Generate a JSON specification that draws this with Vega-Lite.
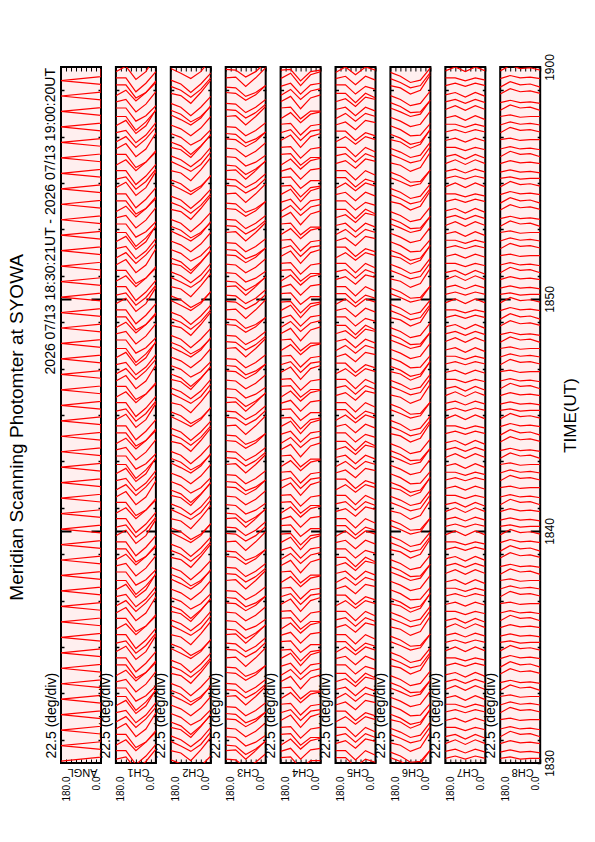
{
  "$schema": "https://vega.github.io/schema/vega-lite/v6.json",
  "padding": {"left": 7, "top": 52, "right": 0, "bottom": 0},
  "title": {"text": "Meridian Scanning Photomter at SYOWA", "orient": "left", "anchor": "middle", "fontSize": 19, "fontWeight": "normal", "font": "Liberation Sans", "color": "#000000", "offset": 16},
  "config": {
    "font": "Liberation Sans",
    "view": {"stroke": "#000000", "strokeWidth": 2, "fill": "#ffefef"},
    "axis": {"domain": false, "grid": false, "tickColor": "#000000", "labelColor": "#000000", "titleColor": "#000000", "titleFontWeight": "normal", "labelFont": "Liberation Sans", "titleFont": "Liberation Sans"},
    "axisTop": {"labels": false, "tickSize": -4, "tickWidth": 1},
    "axisBottom": {"tickSize": -4, "tickWidth": 1, "labelAngle": 270, "labelAlign": "right", "labelFontSize": 10, "labelPadding": 17, "titleFontSize": 11},
    "axisLeft": {"labels": false, "titleAngle": 270, "titleX": -3, "titleY": 691, "titleAlign": "left", "titleBaseline": "bottom", "titleFontSize": 14},
    "axisRight": {"labels": false}
  },
  "datasets": {
    "angl": [{"t":5,"a":180},{"t":15,"a":0},{"t":35,"a":0},{"t":45,"a":180},{"t":55,"a":0},{"t":75,"a":0},{"t":85,"a":180},{"t":95,"a":0},{"t":115,"a":0},{"t":125,"a":180},{"t":135,"a":0},{"t":155,"a":0},{"t":165,"a":180},{"t":175,"a":0},{"t":195,"a":0},{"t":205,"a":180},{"t":215,"a":0},{"t":235,"a":0},{"t":245,"a":180},{"t":255,"a":0},{"t":275,"a":0},{"t":285,"a":180},{"t":295,"a":0},{"t":315,"a":0},{"t":325,"a":180},{"t":335,"a":0},{"t":355,"a":0},{"t":365,"a":180},{"t":375,"a":0},{"t":395,"a":0},{"t":405,"a":180},{"t":415,"a":0},{"t":435,"a":0},{"t":445,"a":180},{"t":455,"a":0},{"t":475,"a":0},{"t":485,"a":180},{"t":495,"a":0},{"t":515,"a":0},{"t":525,"a":180},{"t":535,"a":0},{"t":555,"a":0},{"t":565,"a":180},{"t":575,"a":0},{"t":595,"a":0},{"t":605,"a":180},{"t":615,"a":0},{"t":635,"a":0},{"t":645,"a":180},{"t":655,"a":0},{"t":675,"a":0},{"t":685,"a":180},{"t":695,"a":0},{"t":715,"a":0},{"t":725,"a":180},{"t":735,"a":0},{"t":755,"a":0},{"t":765,"a":180},{"t":775,"a":0},{"t":795,"a":0},{"t":805,"a":180},{"t":815,"a":0},{"t":835,"a":0},{"t":845,"a":180},{"t":855,"a":0},{"t":875,"a":0},{"t":885,"a":180},{"t":895,"a":0},{"t":915,"a":0},{"t":925,"a":180},{"t":935,"a":0},{"t":955,"a":0},{"t":965,"a":180},{"t":975,"a":0},{"t":995,"a":0},{"t":1005,"a":180},{"t":1015,"a":0},{"t":1035,"a":0},{"t":1045,"a":180},{"t":1055,"a":0},{"t":1075,"a":0},{"t":1085,"a":180},{"t":1095,"a":0},{"t":1115,"a":0},{"t":1125,"a":180},{"t":1135,"a":0},{"t":1155,"a":0},{"t":1165,"a":180},{"t":1175,"a":0},{"t":1195,"a":0},{"t":1205,"a":180},{"t":1215,"a":0},{"t":1235,"a":0},{"t":1245,"a":180},{"t":1255,"a":0},{"t":1275,"a":0},{"t":1285,"a":180},{"t":1295,"a":0},{"t":1315,"a":0},{"t":1325,"a":180},{"t":1335,"a":0},{"t":1355,"a":0},{"t":1365,"a":180},{"t":1375,"a":0},{"t":1395,"a":0},{"t":1405,"a":180},{"t":1415,"a":0},{"t":1435,"a":0},{"t":1445,"a":180},{"t":1455,"a":0},{"t":1475,"a":0},{"t":1485,"a":180},{"t":1495,"a":0},{"t":1515,"a":0},{"t":1525,"a":180},{"t":1535,"a":0},{"t":1555,"a":0},{"t":1565,"a":180},{"t":1575,"a":0},{"t":1595,"a":0},{"t":1605,"a":180},{"t":1615,"a":0},{"t":1635,"a":0},{"t":1645,"a":180},{"t":1655,"a":0},{"t":1675,"a":0},{"t":1685,"a":180},{"t":1695,"a":0},{"t":1715,"a":0},{"t":1725,"a":180},{"t":1735,"a":0},{"t":1755,"a":0},{"t":1765,"a":180},{"t":1775,"a":0},{"t":1795,"a":0}],
    "ch1": [
{"y":[10,16,-16,4,36]},{"y":[32,32,-4,18,48]},{"y":[46,60,32,54,84]},{"y":[74,74,40,54,80]},{"y":[88,102,68,88,130]},{"y":[106,120,92,114,144]},{"y":[130,136,104,124,156]},{"y":[148,162,128,148,190]},{"y":[172,172,136,158,188]},{"y":[194,194,160,174,200]},{"y":[210,216,184,204,236]},{"y":[226,240,212,234,264]},{"y":[254,254,220,234,260]},{"y":[272,272,236,258,288]},{"y":[288,302,268,288,330]},
{"y":[310,316,284,304,336]},{"y":[332,332,296,318,348]},{"y":[346,360,332,354,384]},{"y":[374,374,340,354,380]},{"y":[388,402,368,388,430]},{"y":[406,420,392,414,444]},{"y":[430,436,404,424,456]},{"y":[448,462,428,448,490]},{"y":[472,472,436,458,488]},{"y":[494,494,460,474,500]},{"y":[510,516,484,504,536]},{"y":[526,540,512,534,564]},{"y":[554,554,520,534,560]},{"y":[572,572,536,558,588]},{"y":[588,602,568,588,630]},
{"y":[610,616,584,604,636]},{"y":[632,632,596,618,648]},{"y":[646,660,632,654,684]},{"y":[674,674,640,654,680]},{"y":[688,702,668,688,730]},{"y":[706,720,692,714,744]},{"y":[730,736,704,724,756]},{"y":[748,762,728,748,790]},{"y":[772,772,736,758,788]},{"y":[794,794,760,774,800]},{"y":[810,816,784,804,836]},{"y":[826,840,812,834,864]},{"y":[854,854,820,834,860]},{"y":[872,872,836,858,888]},{"y":[888,902,868,888,930]},
{"y":[910,916,884,904,936]},{"y":[932,932,896,918,948]},{"y":[946,960,932,954,984]},{"y":[974,974,940,954,980]},{"y":[988,1002,968,988,1030]},{"y":[1006,1020,992,1014,1044]},{"y":[1030,1036,1004,1024,1056]},{"y":[1048,1062,1028,1048,1090]},{"y":[1072,1072,1036,1058,1088]},{"y":[1094,1094,1060,1074,1100]},{"y":[1110,1116,1084,1104,1136]},{"y":[1126,1140,1112,1134,1164]},{"y":[1154,1154,1120,1134,1160]},{"y":[1172,1172,1136,1158,1188]},{"y":[1188,1202,1168,1188,1230]},
{"y":[1210,1216,1184,1204,1236]},{"y":[1232,1232,1196,1218,1248]},{"y":[1246,1260,1232,1254,1284]},{"y":[1274,1274,1240,1254,1280]},{"y":[1288,1302,1268,1288,1330]},{"y":[1306,1320,1292,1314,1344]},{"y":[1330,1336,1304,1324,1356]},{"y":[1348,1362,1328,1348,1390]},{"y":[1372,1372,1336,1358,1388]},{"y":[1394,1394,1360,1374,1400]},{"y":[1410,1416,1384,1404,1436]},{"y":[1426,1440,1412,1434,1464]},{"y":[1454,1454,1420,1434,1460]},{"y":[1472,1472,1436,1458,1488]},{"y":[1488,1502,1468,1488,1530]},
{"y":[1510,1516,1484,1504,1536]},{"y":[1532,1532,1496,1518,1548]},{"y":[1546,1560,1532,1554,1584]},{"y":[1574,1574,1540,1554,1580]},{"y":[1588,1602,1568,1588,1630]},{"y":[1606,1620,1592,1614,1644]},{"y":[1630,1636,1604,1624,1656]},{"y":[1648,1662,1628,1648,1690]},{"y":[1672,1672,1636,1658,1688]},{"y":[1694,1694,1660,1674,1700]},{"y":[1710,1716,1684,1704,1736]},{"y":[1726,1740,1712,1734,1764]},{"y":[1754,1754,1720,1734,1760]},{"y":[1772,1772,1736,1758,1788]},{"y":[1788,1802,1768,1788,1830]}
    ],
    "ch2": [
{"y":[8,-2,-22,-8,18]},{"y":[32,26,6,34,66]},{"y":[56,44,30,48,80]},{"y":[70,60,42,62,92]},{"y":[92,86,66,94,126]},{"y":[106,96,74,96,124]},{"y":[128,118,98,112,138]},{"y":[150,140,122,142,172]},{"y":[176,164,150,168,200]},{"y":[188,178,158,172,198]},{"y":[206,196,174,196,224]},{"y":[232,226,206,234,266]},{"y":[250,240,222,242,272]},{"y":[266,256,234,256,284]},{"y":[296,284,270,288,320]},
{"y":[308,298,278,292,318]},{"y":[332,326,306,334,366]},{"y":[356,344,330,348,380]},{"y":[370,360,342,362,392]},{"y":[392,386,366,394,426]},{"y":[406,396,374,396,424]},{"y":[428,418,398,412,438]},{"y":[450,440,422,442,472]},{"y":[476,464,450,468,500]},{"y":[488,478,458,472,498]},{"y":[506,496,474,496,524]},{"y":[532,526,506,534,566]},{"y":[550,540,522,542,572]},{"y":[566,556,534,556,584]},{"y":[596,584,570,588,620]},
{"y":[608,598,578,592,618]},{"y":[632,626,606,634,666]},{"y":[656,644,630,648,680]},{"y":[670,660,642,662,692]},{"y":[692,686,666,694,726]},{"y":[706,696,674,696,724]},{"y":[728,718,698,712,738]},{"y":[750,740,722,742,772]},{"y":[776,764,750,768,800]},{"y":[788,778,758,772,798]},{"y":[806,796,774,796,824]},{"y":[832,826,806,834,866]},{"y":[850,840,822,842,872]},{"y":[866,856,834,856,884]},{"y":[896,884,870,888,920]},
{"y":[908,898,878,892,918]},{"y":[932,926,906,934,966]},{"y":[956,944,930,948,980]},{"y":[970,960,942,962,992]},{"y":[992,986,966,994,1026]},{"y":[1006,996,974,996,1024]},{"y":[1028,1018,998,1012,1038]},{"y":[1050,1040,1022,1042,1072]},{"y":[1076,1064,1050,1068,1100]},{"y":[1088,1078,1058,1072,1098]},{"y":[1106,1096,1074,1096,1124]},{"y":[1132,1126,1106,1134,1166]},{"y":[1150,1140,1122,1142,1172]},{"y":[1166,1156,1134,1156,1184]},{"y":[1196,1184,1170,1188,1220]},
{"y":[1208,1198,1178,1192,1218]},{"y":[1232,1226,1206,1234,1266]},{"y":[1256,1244,1230,1248,1280]},{"y":[1270,1260,1242,1262,1292]},{"y":[1292,1286,1266,1294,1326]},{"y":[1306,1296,1274,1296,1324]},{"y":[1328,1318,1298,1312,1338]},{"y":[1350,1340,1322,1342,1372]},{"y":[1376,1364,1350,1368,1400]},{"y":[1388,1378,1358,1372,1398]},{"y":[1406,1396,1374,1396,1424]},{"y":[1432,1426,1406,1434,1466]},{"y":[1450,1440,1422,1442,1472]},{"y":[1466,1456,1434,1456,1484]},{"y":[1496,1484,1470,1488,1520]},
{"y":[1508,1498,1478,1492,1518]},{"y":[1532,1526,1506,1534,1566]},{"y":[1556,1544,1530,1548,1580]},{"y":[1570,1560,1542,1562,1592]},{"y":[1592,1586,1566,1594,1626]},{"y":[1606,1596,1574,1596,1624]},{"y":[1628,1618,1598,1612,1638]},{"y":[1650,1640,1622,1642,1672]},{"y":[1676,1664,1650,1668,1700]},{"y":[1688,1678,1658,1672,1698]},{"y":[1706,1696,1674,1696,1724]},{"y":[1732,1726,1706,1734,1766]},{"y":[1750,1740,1722,1742,1772]},{"y":[1766,1756,1734,1756,1784]},{"y":[1796,1784,1770,1788,1820]}
    ],
    "ch3": [
{"y":[10,8,-12,2,24]},{"y":[32,34,10,32,58]},{"y":[46,44,22,36,56]},{"y":[68,66,44,54,72]},{"y":[90,88,68,82,104]},{"y":[114,112,94,108,132]},{"y":[128,126,104,114,132]},{"y":[146,144,122,136,156]},{"y":[172,174,150,172,198]},{"y":[190,188,168,182,204]},{"y":[206,204,182,196,216]},{"y":[234,232,214,228,252]},{"y":[248,246,224,234,252]},{"y":[272,274,250,272,298]},{"y":[294,292,274,288,312]},
{"y":[310,308,288,302,324]},{"y":[332,334,310,332,358]},{"y":[346,344,322,336,356]},{"y":[368,366,344,354,372]},{"y":[390,388,368,382,404]},{"y":[414,412,394,408,432]},{"y":[428,426,404,414,432]},{"y":[446,444,422,436,456]},{"y":[472,474,450,472,498]},{"y":[490,488,468,482,504]},{"y":[506,504,482,496,516]},{"y":[534,532,514,528,552]},{"y":[548,546,524,534,552]},{"y":[572,574,550,572,598]},{"y":[594,592,574,588,612]},
{"y":[610,608,588,602,624]},{"y":[632,634,610,632,658]},{"y":[646,644,622,636,656]},{"y":[668,666,644,654,672]},{"y":[690,688,668,682,704]},{"y":[714,712,694,708,732]},{"y":[728,726,704,714,732]},{"y":[746,744,722,736,756]},{"y":[772,774,750,772,798]},{"y":[790,788,768,782,804]},{"y":[806,804,782,796,816]},{"y":[834,832,814,828,852]},{"y":[848,846,824,834,852]},{"y":[872,874,850,872,898]},{"y":[894,892,874,888,912]},
{"y":[910,908,888,902,924]},{"y":[932,934,910,932,958]},{"y":[946,944,922,936,956]},{"y":[968,966,944,954,972]},{"y":[990,988,968,982,1004]},{"y":[1014,1012,994,1008,1032]},{"y":[1028,1026,1004,1014,1032]},{"y":[1046,1044,1022,1036,1056]},{"y":[1072,1074,1050,1072,1098]},{"y":[1090,1088,1068,1082,1104]},{"y":[1106,1104,1082,1096,1116]},{"y":[1134,1132,1114,1128,1152]},{"y":[1148,1146,1124,1134,1152]},{"y":[1172,1174,1150,1172,1198]},{"y":[1194,1192,1174,1188,1212]},
{"y":[1210,1208,1188,1202,1224]},{"y":[1232,1234,1210,1232,1258]},{"y":[1246,1244,1222,1236,1256]},{"y":[1268,1266,1244,1254,1272]},{"y":[1290,1288,1268,1282,1304]},{"y":[1314,1312,1294,1308,1332]},{"y":[1328,1326,1304,1314,1332]},{"y":[1346,1344,1322,1336,1356]},{"y":[1372,1374,1350,1372,1398]},{"y":[1390,1388,1368,1382,1404]},{"y":[1406,1404,1382,1396,1416]},{"y":[1434,1432,1414,1428,1452]},{"y":[1448,1446,1424,1434,1452]},{"y":[1472,1474,1450,1472,1498]},{"y":[1494,1492,1474,1488,1512]},
{"y":[1510,1508,1488,1502,1524]},{"y":[1532,1534,1510,1532,1558]},{"y":[1546,1544,1522,1536,1556]},{"y":[1568,1566,1544,1554,1572]},{"y":[1590,1588,1568,1582,1604]},{"y":[1614,1612,1594,1608,1632]},{"y":[1628,1626,1604,1614,1632]},{"y":[1646,1644,1622,1636,1656]},{"y":[1672,1674,1650,1672,1698]},{"y":[1690,1688,1668,1682,1704]},{"y":[1706,1704,1682,1696,1716]},{"y":[1734,1732,1714,1728,1752]},{"y":[1748,1746,1724,1734,1752]},{"y":[1772,1774,1750,1772,1798]},{"y":[1794,1792,1774,1788,1812]}
    ],
    "ch4": [
{"y":[14,16,-14,6,6]},{"y":[30,38,10,34,38]},{"y":[46,62,36,58,64]},{"y":[74,76,46,66,66]},{"y":[92,94,64,88,92]},{"y":[110,124,92,120,128]},{"y":[130,138,110,134,138]},{"y":[152,154,124,148,152]},{"y":[166,182,156,178,184]},{"y":[194,196,166,186,186]},{"y":[210,224,192,220,228]},{"y":[226,242,216,238,244]},{"y":[250,258,230,254,258]},{"y":[270,284,252,280,288]},{"y":[292,294,264,288,292]},
{"y":[314,316,286,306,306]},{"y":[330,338,310,334,338]},{"y":[346,362,336,358,364]},{"y":[374,376,346,366,366]},{"y":[392,394,364,388,392]},{"y":[410,424,392,420,428]},{"y":[430,438,410,434,438]},{"y":[452,454,424,448,452]},{"y":[466,482,456,478,484]},{"y":[494,496,466,486,486]},{"y":[510,524,492,520,528]},{"y":[526,542,516,538,544]},{"y":[550,558,530,554,558]},{"y":[570,584,552,580,588]},{"y":[592,594,564,588,592]},
{"y":[614,616,586,606,606]},{"y":[630,638,610,634,638]},{"y":[646,662,636,658,664]},{"y":[674,676,646,666,666]},{"y":[692,694,664,688,692]},{"y":[710,724,692,720,728]},{"y":[730,738,710,734,738]},{"y":[752,754,724,748,752]},{"y":[766,782,756,778,784]},{"y":[794,796,766,786,786]},{"y":[810,824,792,820,828]},{"y":[826,842,816,838,844]},{"y":[850,858,830,854,858]},{"y":[870,884,852,880,888]},{"y":[892,894,864,888,892]},
{"y":[914,916,886,906,906]},{"y":[930,938,910,934,938]},{"y":[946,962,936,958,964]},{"y":[974,976,946,966,966]},{"y":[992,994,964,988,992]},{"y":[1010,1024,992,1020,1028]},{"y":[1030,1038,1010,1034,1038]},{"y":[1052,1054,1024,1048,1052]},{"y":[1066,1082,1056,1078,1084]},{"y":[1094,1096,1066,1086,1086]},{"y":[1110,1124,1092,1120,1128]},{"y":[1126,1142,1116,1138,1144]},{"y":[1150,1158,1130,1154,1158]},{"y":[1170,1184,1152,1180,1188]},{"y":[1192,1194,1164,1188,1192]},
{"y":[1214,1216,1186,1206,1206]},{"y":[1230,1238,1210,1234,1238]},{"y":[1246,1262,1236,1258,1264]},{"y":[1274,1276,1246,1266,1266]},{"y":[1292,1294,1264,1288,1292]},{"y":[1310,1324,1292,1320,1328]},{"y":[1330,1338,1310,1334,1338]},{"y":[1352,1354,1324,1348,1352]},{"y":[1366,1382,1356,1378,1384]},{"y":[1394,1396,1366,1386,1386]},{"y":[1410,1424,1392,1420,1428]},{"y":[1426,1442,1416,1438,1444]},{"y":[1450,1458,1430,1454,1458]},{"y":[1470,1484,1452,1480,1488]},{"y":[1492,1494,1464,1488,1492]},
{"y":[1514,1516,1486,1506,1506]},{"y":[1530,1538,1510,1534,1538]},{"y":[1546,1562,1536,1558,1564]},{"y":[1574,1576,1546,1566,1566]},{"y":[1592,1594,1564,1588,1592]},{"y":[1610,1624,1592,1620,1628]},{"y":[1630,1638,1610,1634,1638]},{"y":[1652,1654,1624,1648,1652]},{"y":[1666,1682,1656,1678,1684]},{"y":[1694,1696,1666,1686,1686]},{"y":[1710,1724,1692,1720,1728]},{"y":[1726,1742,1716,1738,1744]},{"y":[1750,1758,1730,1754,1758]},{"y":[1770,1784,1752,1780,1788]},{"y":[1792,1794,1764,1788,1792]}
    ],
    "ch5": [
{"y":[14,14,-10,10,2]},{"y":[32,32,8,32,20]},{"y":[50,58,38,62,56]},{"y":[70,76,54,76,66]},{"y":[92,92,68,92,80]},{"y":[106,120,100,120,112]},{"y":[134,134,110,130,122]},{"y":[150,158,138,162,156]},{"y":[166,180,160,180,172]},{"y":[190,196,174,196,186]},{"y":[210,218,198,222,216]},{"y":[232,232,208,232,220]},{"y":[254,254,230,250,242]},{"y":[270,276,254,276,266]},{"y":[286,300,280,300,292]},
{"y":[314,314,290,310,302]},{"y":[332,332,308,332,320]},{"y":[350,358,338,362,356]},{"y":[370,376,354,376,366]},{"y":[392,392,368,392,380]},{"y":[406,420,400,420,412]},{"y":[434,434,410,430,422]},{"y":[450,458,438,462,456]},{"y":[466,480,460,480,472]},{"y":[490,496,474,496,486]},{"y":[510,518,498,522,516]},{"y":[532,532,508,532,520]},{"y":[554,554,530,550,542]},{"y":[570,576,554,576,566]},{"y":[586,600,580,600,592]},
{"y":[614,614,590,610,602]},{"y":[632,632,608,632,620]},{"y":[650,658,638,662,656]},{"y":[670,676,654,676,666]},{"y":[692,692,668,692,680]},{"y":[706,720,700,720,712]},{"y":[734,734,710,730,722]},{"y":[750,758,738,762,756]},{"y":[766,780,760,780,772]},{"y":[790,796,774,796,786]},{"y":[810,818,798,822,816]},{"y":[832,832,808,832,820]},{"y":[854,854,830,850,842]},{"y":[870,876,854,876,866]},{"y":[886,900,880,900,892]},
{"y":[914,914,890,910,902]},{"y":[932,932,908,932,920]},{"y":[950,958,938,962,956]},{"y":[970,976,954,976,966]},{"y":[992,992,968,992,980]},{"y":[1006,1020,1000,1020,1012]},{"y":[1034,1034,1010,1030,1022]},{"y":[1050,1058,1038,1062,1056]},{"y":[1066,1080,1060,1080,1072]},{"y":[1090,1096,1074,1096,1086]},{"y":[1110,1118,1098,1122,1116]},{"y":[1132,1132,1108,1132,1120]},{"y":[1154,1154,1130,1150,1142]},{"y":[1170,1176,1154,1176,1166]},{"y":[1186,1200,1180,1200,1192]},
{"y":[1214,1214,1190,1210,1202]},{"y":[1232,1232,1208,1232,1220]},{"y":[1250,1258,1238,1262,1256]},{"y":[1270,1276,1254,1276,1266]},{"y":[1292,1292,1268,1292,1280]},{"y":[1306,1320,1300,1320,1312]},{"y":[1334,1334,1310,1330,1322]},{"y":[1350,1358,1338,1362,1356]},{"y":[1366,1380,1360,1380,1372]},{"y":[1390,1396,1374,1396,1386]},{"y":[1410,1418,1398,1422,1416]},{"y":[1432,1432,1408,1432,1420]},{"y":[1454,1454,1430,1450,1442]},{"y":[1470,1476,1454,1476,1466]},{"y":[1486,1500,1480,1500,1492]},
{"y":[1514,1514,1490,1510,1502]},{"y":[1532,1532,1508,1532,1520]},{"y":[1550,1558,1538,1562,1556]},{"y":[1570,1576,1554,1576,1566]},{"y":[1592,1592,1568,1592,1580]},{"y":[1606,1620,1600,1620,1612]},{"y":[1634,1634,1610,1630,1622]},{"y":[1650,1658,1638,1662,1656]},{"y":[1666,1680,1660,1680,1672]},{"y":[1690,1696,1674,1696,1686]},{"y":[1710,1718,1698,1722,1716]},{"y":[1732,1732,1708,1732,1720]},{"y":[1754,1754,1730,1750,1742]},{"y":[1770,1776,1754,1776,1766]},{"y":[1786,1800,1780,1800,1792]}
    ],
    "ch6": [
{"y":[14,4,-8,-2,34]},{"y":[28,18,2,4,34]},{"y":[52,46,30,40,80]},{"y":[74,64,52,58,94]},{"y":[90,80,66,72,106]},{"y":[112,106,90,100,140]},{"y":[126,116,100,106,138]},{"y":[148,138,122,124,154]},{"y":[170,160,146,152,186]},{"y":[194,184,172,178,214]},{"y":[208,198,182,184,214]},{"y":[226,216,200,206,238]},{"y":[252,246,230,240,280]},{"y":[270,260,246,252,286]},{"y":[286,276,260,266,298]},
{"y":[314,304,292,298,334]},{"y":[328,318,302,304,334]},{"y":[352,346,330,340,380]},{"y":[374,364,352,358,394]},{"y":[390,380,366,372,406]},{"y":[412,406,390,400,440]},{"y":[426,416,400,406,438]},{"y":[448,438,422,424,454]},{"y":[470,460,446,452,486]},{"y":[494,484,472,478,514]},{"y":[508,498,482,484,514]},{"y":[526,516,500,506,538]},{"y":[552,546,530,540,580]},{"y":[570,560,546,552,586]},{"y":[586,576,560,566,598]},
{"y":[614,604,592,598,634]},{"y":[628,618,602,604,634]},{"y":[652,646,630,640,680]},{"y":[674,664,652,658,694]},{"y":[690,680,666,672,706]},{"y":[712,706,690,700,740]},{"y":[726,716,700,706,738]},{"y":[748,738,722,724,754]},{"y":[770,760,746,752,786]},{"y":[794,784,772,778,814]},{"y":[808,798,782,784,814]},{"y":[826,816,800,806,838]},{"y":[852,846,830,840,880]},{"y":[870,860,846,852,886]},{"y":[886,876,860,866,898]},
{"y":[914,904,892,898,934]},{"y":[928,918,902,904,934]},{"y":[952,946,930,940,980]},{"y":[974,964,952,958,994]},{"y":[990,980,966,972,1006]},{"y":[1012,1006,990,1000,1040]},{"y":[1026,1016,1000,1006,1038]},{"y":[1048,1038,1022,1024,1054]},{"y":[1070,1060,1046,1052,1086]},{"y":[1094,1084,1072,1078,1114]},{"y":[1108,1098,1082,1084,1114]},{"y":[1126,1116,1100,1106,1138]},{"y":[1152,1146,1130,1140,1180]},{"y":[1170,1160,1146,1152,1186]},{"y":[1186,1176,1160,1166,1198]},
{"y":[1214,1204,1192,1198,1234]},{"y":[1228,1218,1202,1204,1234]},{"y":[1252,1246,1230,1240,1280]},{"y":[1274,1264,1252,1258,1294]},{"y":[1290,1280,1266,1272,1306]},{"y":[1312,1306,1290,1300,1340]},{"y":[1326,1316,1300,1306,1338]},{"y":[1348,1338,1322,1324,1354]},{"y":[1370,1360,1346,1352,1386]},{"y":[1394,1384,1372,1378,1414]},{"y":[1408,1398,1382,1384,1414]},{"y":[1426,1416,1400,1406,1438]},{"y":[1452,1446,1430,1440,1480]},{"y":[1470,1460,1446,1452,1486]},{"y":[1486,1476,1460,1466,1498]},
{"y":[1514,1504,1492,1498,1534]},{"y":[1528,1518,1502,1504,1534]},{"y":[1552,1546,1530,1540,1580]},{"y":[1574,1564,1552,1558,1594]},{"y":[1590,1580,1566,1572,1606]},{"y":[1612,1606,1590,1600,1640]},{"y":[1626,1616,1600,1606,1638]},{"y":[1648,1638,1622,1624,1654]},{"y":[1670,1660,1646,1652,1686]},{"y":[1694,1684,1672,1678,1714]},{"y":[1708,1698,1682,1684,1714]},{"y":[1726,1716,1700,1706,1738]},{"y":[1752,1746,1730,1740,1780]},{"y":[1770,1760,1746,1752,1786]},{"y":[1786,1776,1760,1766,1798]}
    ],
    "ch7": [
{"y":[12,18,10,18,12]},{"y":[30,36,26,36,28]},{"y":[50,60,48,60,50]},{"y":[68,74,62,74,64]},{"y":[92,92,84,92,86]},{"y":[110,116,106,116,108]},{"y":[132,138,130,138,132]},{"y":[152,152,144,152,146]},{"y":[168,174,162,174,164]},{"y":[190,200,188,200,190]},{"y":[210,216,206,216,208]},{"y":[228,234,222,234,224]},{"y":[252,258,250,258,252]},{"y":[272,272,264,272,266]},{"y":[290,300,288,300,290]},
{"y":[312,318,310,318,312]},{"y":[330,336,326,336,328]},{"y":[350,360,348,360,350]},{"y":[368,374,362,374,364]},{"y":[392,392,384,392,386]},{"y":[410,416,406,416,408]},{"y":[432,438,430,438,432]},{"y":[452,452,444,452,446]},{"y":[468,474,462,474,464]},{"y":[490,500,488,500,490]},{"y":[510,516,506,516,508]},{"y":[528,534,522,534,524]},{"y":[552,558,550,558,552]},{"y":[572,572,564,572,566]},{"y":[590,600,588,600,590]},
{"y":[612,618,610,618,612]},{"y":[630,636,626,636,628]},{"y":[650,660,648,660,650]},{"y":[668,674,662,674,664]},{"y":[692,692,684,692,686]},{"y":[710,716,706,716,708]},{"y":[732,738,730,738,732]},{"y":[752,752,744,752,746]},{"y":[768,774,762,774,764]},{"y":[790,800,788,800,790]},{"y":[810,816,806,816,808]},{"y":[828,834,822,834,824]},{"y":[852,858,850,858,852]},{"y":[872,872,864,872,866]},{"y":[890,900,888,900,890]},
{"y":[912,918,910,918,912]},{"y":[930,936,926,936,928]},{"y":[950,960,948,960,950]},{"y":[968,974,962,974,964]},{"y":[992,992,984,992,986]},{"y":[1010,1016,1006,1016,1008]},{"y":[1032,1038,1030,1038,1032]},{"y":[1052,1052,1044,1052,1046]},{"y":[1068,1074,1062,1074,1064]},{"y":[1090,1100,1088,1100,1090]},{"y":[1110,1116,1106,1116,1108]},{"y":[1128,1134,1122,1134,1124]},{"y":[1152,1158,1150,1158,1152]},{"y":[1172,1172,1164,1172,1166]},{"y":[1190,1200,1188,1200,1190]},
{"y":[1212,1218,1210,1218,1212]},{"y":[1230,1236,1226,1236,1228]},{"y":[1250,1260,1248,1260,1250]},{"y":[1268,1274,1262,1274,1264]},{"y":[1292,1292,1284,1292,1286]},{"y":[1310,1316,1306,1316,1308]},{"y":[1332,1338,1330,1338,1332]},{"y":[1352,1352,1344,1352,1346]},{"y":[1368,1374,1362,1374,1364]},{"y":[1390,1400,1388,1400,1390]},{"y":[1410,1416,1406,1416,1408]},{"y":[1428,1434,1422,1434,1424]},{"y":[1452,1458,1450,1458,1452]},{"y":[1472,1472,1464,1472,1466]},{"y":[1490,1500,1488,1500,1490]},
{"y":[1512,1518,1510,1518,1512]},{"y":[1530,1536,1526,1536,1528]},{"y":[1550,1560,1548,1560,1550]},{"y":[1568,1574,1562,1574,1564]},{"y":[1592,1592,1584,1592,1586]},{"y":[1610,1616,1606,1616,1608]},{"y":[1632,1638,1630,1638,1632]},{"y":[1652,1652,1644,1652,1646]},{"y":[1668,1674,1662,1674,1664]},{"y":[1690,1700,1688,1700,1690]},{"y":[1710,1716,1706,1716,1708]},{"y":[1728,1734,1722,1734,1724]},{"y":[1752,1758,1750,1758,1752]},{"y":[1772,1772,1764,1772,1766]},{"y":[1790,1800,1788,1800,1790]}
    ],
    "ch8": [
{"y":[12,16,10,12,12]},{"y":[28,34,28,30,26]},{"y":[50,58,52,54,50]},{"y":[68,82,74,76,68]},{"y":[88,94,88,90,86]},{"y":[112,116,110,112,112]},{"y":[130,144,136,138,132]},{"y":[150,158,152,154,150]},{"y":[172,176,170,172,172]},{"y":[188,202,194,196,188]},{"y":[208,214,208,210,206]},{"y":[230,244,236,238,232]},{"y":[248,262,254,256,248]},{"y":[270,278,272,274,270]},{"y":[290,304,296,298,292]},
{"y":[312,316,310,312,312]},{"y":[328,334,328,330,326]},{"y":[350,358,352,354,350]},{"y":[368,382,374,376,368]},{"y":[388,394,388,390,386]},{"y":[412,416,410,412,412]},{"y":[430,444,436,438,432]},{"y":[450,458,452,454,450]},{"y":[472,476,470,472,472]},{"y":[488,502,494,496,488]},{"y":[508,514,508,510,506]},{"y":[530,544,536,538,532]},{"y":[548,562,554,556,548]},{"y":[570,578,572,574,570]},{"y":[590,604,596,598,592]},
{"y":[612,616,610,612,612]},{"y":[628,634,628,630,626]},{"y":[650,658,652,654,650]},{"y":[668,682,674,676,668]},{"y":[688,694,688,690,686]},{"y":[712,716,710,712,712]},{"y":[730,744,736,738,732]},{"y":[750,758,752,754,750]},{"y":[772,776,770,772,772]},{"y":[788,802,794,796,788]},{"y":[808,814,808,810,806]},{"y":[830,844,836,838,832]},{"y":[848,862,854,856,848]},{"y":[870,878,872,874,870]},{"y":[890,904,896,898,892]},
{"y":[912,916,910,912,912]},{"y":[928,934,928,930,926]},{"y":[950,958,952,954,950]},{"y":[968,982,974,976,968]},{"y":[988,994,988,990,986]},{"y":[1012,1016,1010,1012,1012]},{"y":[1030,1044,1036,1038,1032]},{"y":[1050,1058,1052,1054,1050]},{"y":[1072,1076,1070,1072,1072]},{"y":[1088,1102,1094,1096,1088]},{"y":[1108,1114,1108,1110,1106]},{"y":[1130,1144,1136,1138,1132]},{"y":[1148,1162,1154,1156,1148]},{"y":[1170,1178,1172,1174,1170]},{"y":[1190,1204,1196,1198,1192]},
{"y":[1212,1216,1210,1212,1212]},{"y":[1228,1234,1228,1230,1226]},{"y":[1250,1258,1252,1254,1250]},{"y":[1268,1282,1274,1276,1268]},{"y":[1288,1294,1288,1290,1286]},{"y":[1312,1316,1310,1312,1312]},{"y":[1330,1344,1336,1338,1332]},{"y":[1350,1358,1352,1354,1350]},{"y":[1372,1376,1370,1372,1372]},{"y":[1388,1402,1394,1396,1388]},{"y":[1408,1414,1408,1410,1406]},{"y":[1430,1444,1436,1438,1432]},{"y":[1448,1462,1454,1456,1448]},{"y":[1470,1478,1472,1474,1470]},{"y":[1490,1504,1496,1498,1492]},
{"y":[1512,1516,1510,1512,1512]},{"y":[1528,1534,1528,1530,1526]},{"y":[1550,1558,1552,1554,1550]},{"y":[1568,1582,1574,1576,1568]},{"y":[1588,1594,1588,1590,1586]},{"y":[1612,1616,1610,1612,1612]},{"y":[1630,1644,1636,1638,1632]},{"y":[1650,1658,1652,1654,1650]},{"y":[1672,1676,1670,1672,1672]},{"y":[1688,1702,1694,1696,1688]},{"y":[1708,1714,1708,1710,1706]},{"y":[1730,1744,1736,1738,1732]},{"y":[1748,1762,1754,1756,1748]},{"y":[1770,1778,1772,1774,1770]},{"y":[1790,1804,1796,1798,1792]}
    ]
  },
  "spacing": 14.9,
  "bounds": "flush",
  "hconcat": [
    {"width": 40, "height": 696, "layer": [
      {"data": {"name": "angl"}, "mark": {"type": "line", "color": "#ff0000", "strokeWidth": 1.2, "clip": true}, "encoding": {
        "x": {"field": "a", "type": "quantitative", "scale": {"domain": [0, 180], "reverse": true, "nice": false, "zero": false}, "axis": {"orient": "bottom", "values": [0,22.5,45,67.5,90,112.5,135,157.5,180], "labelExpr": "datum.value==180?'180.0':datum.value==0?'0.0':''", "labelBaseline": {"condition": {"test": "datum.value==180", "value": "top"}, "value": "bottom"}, "title": "ANGL", "titleAngle": 180, "titleX": 21, "titleY": 8, "titleAlign": "center", "titleBaseline": "middle"}},
        "y": {"field": "t", "type": "quantitative", "scale": {"domain": [0, 1800], "nice": false, "zero": false}, "axis": {"orient": "left", "values": [60,180,300,420,540,600,660,780,900,1020,1140,1200,1260,1380,1500,1620,1740], "tickSize": {"condition": {"test": "datum.value==600||datum.value==1200", "value": -10}, "value": -3}, "tickWidth": {"condition": {"test": "datum.value==600||datum.value==1200", "value": 2}, "value": 1.5}, "title": "22.5 (deg/div)"}},
        "order": {"field": "t", "type": "quantitative"}}},
      {"data": {"values": [{}]}, "mark": {"type": "text", "text": "2026 07/13 18:30:21UT - 2026 07/13 19:00:20UT", "angle": 270, "align": "right", "baseline": "bottom", "fontSize": 14, "dx": -1, "dy": -3, "color": "#000000"}, "encoding": {
        "x": {"datum": 180, "type": "quantitative", "axis": null},
        "y": {"datum": 1800, "type": "quantitative", "axis": null}}},
      {"data": {"values": [{}]}, "mark": {"type": "point", "opacity": 0}, "encoding": {
        "x": {"datum": 90, "type": "quantitative", "axis": {"orient": "top", "values": [0,22.5,45,67.5,90,112.5,135,157.5,180], "title": null}},
        "y": {"datum": 900, "type": "quantitative", "axis": {"orient": "right", "values": [60,180,300,420,540,600,660,780,900,1020,1140,1200,1260,1380,1500,1620,1740], "tickSize": {"condition": {"test": "datum.value==600||datum.value==1200", "value": -10}, "value": -3}, "tickWidth": {"condition": {"test": "datum.value==600||datum.value==1200", "value": 2}, "value": 1.5}, "title": null}}}}
    ], "resolve": {"axis": {"x": "independent", "y": "independent"}}},
    {"width": 40, "height": 696, "layer": [
      {"data": {"name": "ch1"}, "transform": [{"window": [{"op": "row_number", "as": "k"}]}, {"flatten": ["y"]}, {"window": [{"op": "row_number", "as": "i"}], "groupby": ["k"]}], "mark": {"type": "line", "color": "#ff0000", "strokeWidth": 1.2, "clip": true}, "encoding": {
        "x": {"field": "i", "type": "quantitative", "scale": {"domain": [1, 5], "nice": false, "zero": false}, "axis": {"orient": "bottom", "values": [1,1.5,2,2.5,3,3.5,4,4.5,5], "labelExpr": "datum.value==1?'180.0':datum.value==5?'0.0':''", "labelBaseline": {"condition": {"test": "datum.value==1", "value": "top"}, "value": "bottom"}, "title": "CH1", "titleAngle": 180, "titleX": 22, "titleY": 8, "titleAlign": "center", "titleBaseline": "middle"}},
        "y": {"field": "y", "type": "quantitative", "scale": {"domain": [0, 1800], "nice": false, "zero": false}, "axis": {"orient": "left", "values": [60,180,300,420,540,600,660,780,900,1020,1140,1200,1260,1380,1500,1620,1740], "tickSize": {"condition": {"test": "datum.value==600||datum.value==1200", "value": -10}, "value": -3}, "tickWidth": {"condition": {"test": "datum.value==600||datum.value==1200", "value": 2}, "value": 1.5}, "title": "22.5 (deg/div)"}},
        "detail": {"field": "k", "type": "nominal"}}},
      {"data": {"values": [{}]}, "mark": {"type": "point", "opacity": 0}, "encoding": {
        "x": {"datum": 3, "type": "quantitative", "axis": {"orient": "top", "values": [1,1.5,2,2.5,3,3.5,4,4.5,5], "title": null}},
        "y": {"datum": 900, "type": "quantitative", "axis": {"orient": "right", "values": [60,180,300,420,540,600,660,780,900,1020,1140,1200,1260,1380,1500,1620,1740], "tickSize": {"condition": {"test": "datum.value==600||datum.value==1200", "value": -10}, "value": -3}, "tickWidth": {"condition": {"test": "datum.value==600||datum.value==1200", "value": 2}, "value": 1.5}, "title": null}}}}
    ], "resolve": {"axis": {"x": "independent", "y": "independent"}}},
    {"width": 40, "height": 696, "layer": [
      {"data": {"name": "ch2"}, "transform": [{"window": [{"op": "row_number", "as": "k"}]}, {"flatten": ["y"]}, {"window": [{"op": "row_number", "as": "i"}], "groupby": ["k"]}], "mark": {"type": "line", "color": "#ff0000", "strokeWidth": 1.2, "clip": true}, "encoding": {
        "x": {"field": "i", "type": "quantitative", "scale": {"domain": [1, 5], "nice": false, "zero": false}, "axis": {"orient": "bottom", "values": [1,1.5,2,2.5,3,3.5,4,4.5,5], "labelExpr": "datum.value==1?'180.0':datum.value==5?'0.0':''", "labelBaseline": {"condition": {"test": "datum.value==1", "value": "top"}, "value": "bottom"}, "title": "CH2", "titleAngle": 180, "titleX": 22, "titleY": 8, "titleAlign": "center", "titleBaseline": "middle"}},
        "y": {"field": "y", "type": "quantitative", "scale": {"domain": [0, 1800], "nice": false, "zero": false}, "axis": {"orient": "left", "values": [60,180,300,420,540,600,660,780,900,1020,1140,1200,1260,1380,1500,1620,1740], "tickSize": {"condition": {"test": "datum.value==600||datum.value==1200", "value": -10}, "value": -3}, "tickWidth": {"condition": {"test": "datum.value==600||datum.value==1200", "value": 2}, "value": 1.5}, "title": "22.5 (deg/div)"}},
        "detail": {"field": "k", "type": "nominal"}}},
      {"data": {"values": [{}]}, "mark": {"type": "point", "opacity": 0}, "encoding": {
        "x": {"datum": 3, "type": "quantitative", "axis": {"orient": "top", "values": [1,1.5,2,2.5,3,3.5,4,4.5,5], "title": null}},
        "y": {"datum": 900, "type": "quantitative", "axis": {"orient": "right", "values": [60,180,300,420,540,600,660,780,900,1020,1140,1200,1260,1380,1500,1620,1740], "tickSize": {"condition": {"test": "datum.value==600||datum.value==1200", "value": -10}, "value": -3}, "tickWidth": {"condition": {"test": "datum.value==600||datum.value==1200", "value": 2}, "value": 1.5}, "title": null}}}}
    ], "resolve": {"axis": {"x": "independent", "y": "independent"}}},
    {"width": 40, "height": 696, "layer": [
      {"data": {"name": "ch3"}, "transform": [{"window": [{"op": "row_number", "as": "k"}]}, {"flatten": ["y"]}, {"window": [{"op": "row_number", "as": "i"}], "groupby": ["k"]}], "mark": {"type": "line", "color": "#ff0000", "strokeWidth": 1.2, "clip": true}, "encoding": {
        "x": {"field": "i", "type": "quantitative", "scale": {"domain": [1, 5], "nice": false, "zero": false}, "axis": {"orient": "bottom", "values": [1,1.5,2,2.5,3,3.5,4,4.5,5], "labelExpr": "datum.value==1?'180.0':datum.value==5?'0.0':''", "labelBaseline": {"condition": {"test": "datum.value==1", "value": "top"}, "value": "bottom"}, "title": "CH3", "titleAngle": 180, "titleX": 22, "titleY": 8, "titleAlign": "center", "titleBaseline": "middle"}},
        "y": {"field": "y", "type": "quantitative", "scale": {"domain": [0, 1800], "nice": false, "zero": false}, "axis": {"orient": "left", "values": [60,180,300,420,540,600,660,780,900,1020,1140,1200,1260,1380,1500,1620,1740], "tickSize": {"condition": {"test": "datum.value==600||datum.value==1200", "value": -10}, "value": -3}, "tickWidth": {"condition": {"test": "datum.value==600||datum.value==1200", "value": 2}, "value": 1.5}, "title": "22.5 (deg/div)"}},
        "detail": {"field": "k", "type": "nominal"}}},
      {"data": {"values": [{}]}, "mark": {"type": "point", "opacity": 0}, "encoding": {
        "x": {"datum": 3, "type": "quantitative", "axis": {"orient": "top", "values": [1,1.5,2,2.5,3,3.5,4,4.5,5], "title": null}},
        "y": {"datum": 900, "type": "quantitative", "axis": {"orient": "right", "values": [60,180,300,420,540,600,660,780,900,1020,1140,1200,1260,1380,1500,1620,1740], "tickSize": {"condition": {"test": "datum.value==600||datum.value==1200", "value": -10}, "value": -3}, "tickWidth": {"condition": {"test": "datum.value==600||datum.value==1200", "value": 2}, "value": 1.5}, "title": null}}}}
    ], "resolve": {"axis": {"x": "independent", "y": "independent"}}},
    {"width": 40, "height": 696, "layer": [
      {"data": {"name": "ch4"}, "transform": [{"window": [{"op": "row_number", "as": "k"}]}, {"flatten": ["y"]}, {"window": [{"op": "row_number", "as": "i"}], "groupby": ["k"]}], "mark": {"type": "line", "color": "#ff0000", "strokeWidth": 1.2, "clip": true}, "encoding": {
        "x": {"field": "i", "type": "quantitative", "scale": {"domain": [1, 5], "nice": false, "zero": false}, "axis": {"orient": "bottom", "values": [1,1.5,2,2.5,3,3.5,4,4.5,5], "labelExpr": "datum.value==1?'180.0':datum.value==5?'0.0':''", "labelBaseline": {"condition": {"test": "datum.value==1", "value": "top"}, "value": "bottom"}, "title": "CH4", "titleAngle": 180, "titleX": 22, "titleY": 8, "titleAlign": "center", "titleBaseline": "middle"}},
        "y": {"field": "y", "type": "quantitative", "scale": {"domain": [0, 1800], "nice": false, "zero": false}, "axis": {"orient": "left", "values": [60,180,300,420,540,600,660,780,900,1020,1140,1200,1260,1380,1500,1620,1740], "tickSize": {"condition": {"test": "datum.value==600||datum.value==1200", "value": -10}, "value": -3}, "tickWidth": {"condition": {"test": "datum.value==600||datum.value==1200", "value": 2}, "value": 1.5}, "title": "22.5 (deg/div)"}},
        "detail": {"field": "k", "type": "nominal"}}},
      {"data": {"values": [{}]}, "mark": {"type": "point", "opacity": 0}, "encoding": {
        "x": {"datum": 3, "type": "quantitative", "axis": {"orient": "top", "values": [1,1.5,2,2.5,3,3.5,4,4.5,5], "title": null}},
        "y": {"datum": 900, "type": "quantitative", "axis": {"orient": "right", "values": [60,180,300,420,540,600,660,780,900,1020,1140,1200,1260,1380,1500,1620,1740], "tickSize": {"condition": {"test": "datum.value==600||datum.value==1200", "value": -10}, "value": -3}, "tickWidth": {"condition": {"test": "datum.value==600||datum.value==1200", "value": 2}, "value": 1.5}, "title": null}}}}
    ], "resolve": {"axis": {"x": "independent", "y": "independent"}}},
    {"width": 40, "height": 696, "layer": [
      {"data": {"name": "ch5"}, "transform": [{"window": [{"op": "row_number", "as": "k"}]}, {"flatten": ["y"]}, {"window": [{"op": "row_number", "as": "i"}], "groupby": ["k"]}], "mark": {"type": "line", "color": "#ff0000", "strokeWidth": 1.2, "clip": true}, "encoding": {
        "x": {"field": "i", "type": "quantitative", "scale": {"domain": [1, 5], "nice": false, "zero": false}, "axis": {"orient": "bottom", "values": [1,1.5,2,2.5,3,3.5,4,4.5,5], "labelExpr": "datum.value==1?'180.0':datum.value==5?'0.0':''", "labelBaseline": {"condition": {"test": "datum.value==1", "value": "top"}, "value": "bottom"}, "title": "CH5", "titleAngle": 180, "titleX": 22, "titleY": 8, "titleAlign": "center", "titleBaseline": "middle"}},
        "y": {"field": "y", "type": "quantitative", "scale": {"domain": [0, 1800], "nice": false, "zero": false}, "axis": {"orient": "left", "values": [60,180,300,420,540,600,660,780,900,1020,1140,1200,1260,1380,1500,1620,1740], "tickSize": {"condition": {"test": "datum.value==600||datum.value==1200", "value": -10}, "value": -3}, "tickWidth": {"condition": {"test": "datum.value==600||datum.value==1200", "value": 2}, "value": 1.5}, "title": "22.5 (deg/div)"}},
        "detail": {"field": "k", "type": "nominal"}}},
      {"data": {"values": [{}]}, "mark": {"type": "point", "opacity": 0}, "encoding": {
        "x": {"datum": 3, "type": "quantitative", "axis": {"orient": "top", "values": [1,1.5,2,2.5,3,3.5,4,4.5,5], "title": null}},
        "y": {"datum": 900, "type": "quantitative", "axis": {"orient": "right", "values": [60,180,300,420,540,600,660,780,900,1020,1140,1200,1260,1380,1500,1620,1740], "tickSize": {"condition": {"test": "datum.value==600||datum.value==1200", "value": -10}, "value": -3}, "tickWidth": {"condition": {"test": "datum.value==600||datum.value==1200", "value": 2}, "value": 1.5}, "title": null}}}}
    ], "resolve": {"axis": {"x": "independent", "y": "independent"}}},
    {"width": 40, "height": 696, "layer": [
      {"data": {"name": "ch6"}, "transform": [{"window": [{"op": "row_number", "as": "k"}]}, {"flatten": ["y"]}, {"window": [{"op": "row_number", "as": "i"}], "groupby": ["k"]}], "mark": {"type": "line", "color": "#ff0000", "strokeWidth": 1.2, "clip": true}, "encoding": {
        "x": {"field": "i", "type": "quantitative", "scale": {"domain": [1, 5], "nice": false, "zero": false}, "axis": {"orient": "bottom", "values": [1,1.5,2,2.5,3,3.5,4,4.5,5], "labelExpr": "datum.value==1?'180.0':datum.value==5?'0.0':''", "labelBaseline": {"condition": {"test": "datum.value==1", "value": "top"}, "value": "bottom"}, "title": "CH6", "titleAngle": 180, "titleX": 22, "titleY": 8, "titleAlign": "center", "titleBaseline": "middle"}},
        "y": {"field": "y", "type": "quantitative", "scale": {"domain": [0, 1800], "nice": false, "zero": false}, "axis": {"orient": "left", "values": [60,180,300,420,540,600,660,780,900,1020,1140,1200,1260,1380,1500,1620,1740], "tickSize": {"condition": {"test": "datum.value==600||datum.value==1200", "value": -10}, "value": -3}, "tickWidth": {"condition": {"test": "datum.value==600||datum.value==1200", "value": 2}, "value": 1.5}, "title": "22.5 (deg/div)"}},
        "detail": {"field": "k", "type": "nominal"}}},
      {"data": {"values": [{}]}, "mark": {"type": "point", "opacity": 0}, "encoding": {
        "x": {"datum": 3, "type": "quantitative", "axis": {"orient": "top", "values": [1,1.5,2,2.5,3,3.5,4,4.5,5], "title": null}},
        "y": {"datum": 900, "type": "quantitative", "axis": {"orient": "right", "values": [60,180,300,420,540,600,660,780,900,1020,1140,1200,1260,1380,1500,1620,1740], "tickSize": {"condition": {"test": "datum.value==600||datum.value==1200", "value": -10}, "value": -3}, "tickWidth": {"condition": {"test": "datum.value==600||datum.value==1200", "value": 2}, "value": 1.5}, "title": null}}}}
    ], "resolve": {"axis": {"x": "independent", "y": "independent"}}},
    {"width": 40, "height": 696, "layer": [
      {"data": {"name": "ch7"}, "transform": [{"window": [{"op": "row_number", "as": "k"}]}, {"flatten": ["y"]}, {"window": [{"op": "row_number", "as": "i"}], "groupby": ["k"]}], "mark": {"type": "line", "color": "#ff0000", "strokeWidth": 1.2, "clip": true}, "encoding": {
        "x": {"field": "i", "type": "quantitative", "scale": {"domain": [1, 5], "nice": false, "zero": false}, "axis": {"orient": "bottom", "values": [1,1.5,2,2.5,3,3.5,4,4.5,5], "labelExpr": "datum.value==1?'180.0':datum.value==5?'0.0':''", "labelBaseline": {"condition": {"test": "datum.value==1", "value": "top"}, "value": "bottom"}, "title": "CH7", "titleAngle": 180, "titleX": 22, "titleY": 8, "titleAlign": "center", "titleBaseline": "middle"}},
        "y": {"field": "y", "type": "quantitative", "scale": {"domain": [0, 1800], "nice": false, "zero": false}, "axis": {"orient": "left", "values": [60,180,300,420,540,600,660,780,900,1020,1140,1200,1260,1380,1500,1620,1740], "tickSize": {"condition": {"test": "datum.value==600||datum.value==1200", "value": -10}, "value": -3}, "tickWidth": {"condition": {"test": "datum.value==600||datum.value==1200", "value": 2}, "value": 1.5}, "title": "22.5 (deg/div)"}},
        "detail": {"field": "k", "type": "nominal"}}},
      {"data": {"values": [{}]}, "mark": {"type": "point", "opacity": 0}, "encoding": {
        "x": {"datum": 3, "type": "quantitative", "axis": {"orient": "top", "values": [1,1.5,2,2.5,3,3.5,4,4.5,5], "title": null}},
        "y": {"datum": 900, "type": "quantitative", "axis": {"orient": "right", "values": [60,180,300,420,540,600,660,780,900,1020,1140,1200,1260,1380,1500,1620,1740], "tickSize": {"condition": {"test": "datum.value==600||datum.value==1200", "value": -10}, "value": -3}, "tickWidth": {"condition": {"test": "datum.value==600||datum.value==1200", "value": 2}, "value": 1.5}, "title": null}}}}
    ], "resolve": {"axis": {"x": "independent", "y": "independent"}}},
    {"width": 40, "height": 696, "layer": [
      {"data": {"name": "ch8"}, "transform": [{"window": [{"op": "row_number", "as": "k"}]}, {"flatten": ["y"]}, {"window": [{"op": "row_number", "as": "i"}], "groupby": ["k"]}], "mark": {"type": "line", "color": "#ff0000", "strokeWidth": 1.2, "clip": true}, "encoding": {
        "x": {"field": "i", "type": "quantitative", "scale": {"domain": [1, 5], "nice": false, "zero": false}, "axis": {"orient": "bottom", "values": [1,1.5,2,2.5,3,3.5,4,4.5,5], "labelExpr": "datum.value==1?'180.0':datum.value==5?'0.0':''", "labelBaseline": {"condition": {"test": "datum.value==1", "value": "top"}, "value": "bottom"}, "title": "CH8", "titleAngle": 180, "titleX": 22, "titleY": 8, "titleAlign": "center", "titleBaseline": "middle"}},
        "y": {"field": "y", "type": "quantitative", "scale": {"domain": [0, 1800], "nice": false, "zero": false}, "axis": {"orient": "left", "values": [60,180,300,420,540,600,660,780,900,1020,1140,1200,1260,1380,1500,1620,1740], "tickSize": {"condition": {"test": "datum.value==600||datum.value==1200", "value": -10}, "value": -3}, "tickWidth": {"condition": {"test": "datum.value==600||datum.value==1200", "value": 2}, "value": 1.5}, "title": "22.5 (deg/div)"}},
        "detail": {"field": "k", "type": "nominal"}}},
      {"data": {"values": [{}]}, "mark": {"type": "point", "opacity": 0}, "encoding": {
        "x": {"datum": 3, "type": "quantitative", "axis": {"orient": "top", "values": [1,1.5,2,2.5,3,3.5,4,4.5,5], "title": null}},
        "y": {"datum": 900, "type": "quantitative", "axis": {"orient": "right", "values": [0,60,180,300,420,540,600,660,780,900,1020,1140,1200,1260,1380,1500,1620,1740,1800], "tickSize": {"condition": {"test": "datum.value==600||datum.value==1200", "value": -10}, "value": -3}, "tickWidth": {"condition": {"test": "datum.value==600||datum.value==1200", "value": 2}, "value": 1.5}, "labels": true, "labelExpr": "datum.value==0?'1830':datum.value==600?'1840':datum.value==1200?'1850':datum.value==1800?'1900':''", "labelAngle": 270, "labelAlign": "center", "labelBaseline": "top", "labelFontSize": 12, "labelPadding": {"condition": {"test": "datum.value==600||datum.value==1200", "value": 14}, "value": 7}, "title": "TIME(UT)", "titleAngle": 270, "titleFontSize": 17, "titleX": 22, "titleY": 348, "titleAlign": "center", "titleBaseline": "top"}}}}
    ], "resolve": {"axis": {"x": "independent", "y": "independent"}}}
  ]
}
